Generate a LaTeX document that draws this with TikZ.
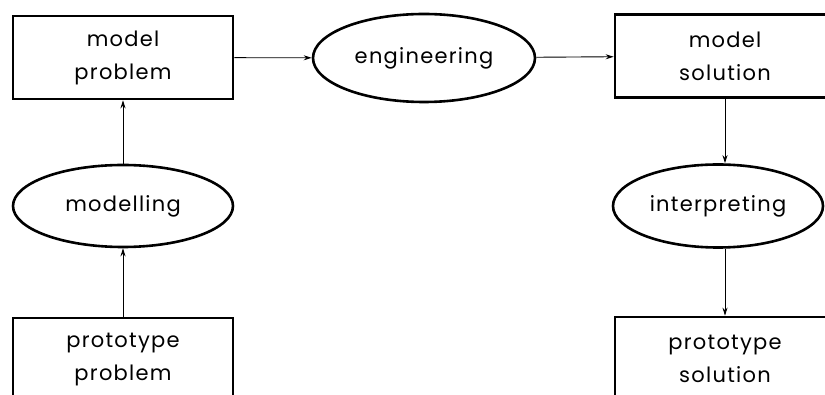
\documentclass[tikz,border=0pt]{standalone}
\usepackage{fontspec}
\setmainfont{Poppins}[LetterSpace=6]
\usetikzlibrary{shapes.geometric,arrows.meta}

\tikzset{
  stagebox/.style={draw,line width=2.6pt,rectangle,minimum width=220pt,minimum height=83pt,align=center,inner sep=0pt},
  actoval/.style={draw,line width=2.6pt,ellipse,inner sep=0pt,align=center},
  link/.style={line width=0.9pt,-{Stealth[length=8pt,width=5pt]}}
}

\begin{document}
\begin{tikzpicture}[x=1pt,y=-1pt,font=\fontsize{21}{33}\selectfont]
            % page frame, the boxes run off the right and lower edges
            \useasboundingbox (0,0) rectangle (825,395);
            \clip (0,0) rectangle (825,395);

            % the four states (model / prototype, problem / solution)
            \node[stagebox] (mprob) at (123,57.5) {model\\problem}; % top left
            \node[stagebox] (msol) at (725,56) {model\\solution}; % top right
            \node[stagebox] (pprob) at (123,359.5) {prototype\\problem}; % bottom left
            \node[stagebox] (psol) at (725,358.5) {prototype\\solution}; % bottom right

            % the three activities between them
            \node[actoval,minimum width=222pt,minimum height=88pt] (eng) at (424,58) {engineering};
            \node[actoval,minimum width=220pt,minimum height=82pt] (mdl) at (123,206) {modelling};
            \node[actoval,minimum width=210pt,minimum height=83pt] (interp) at (718,206) {interpreting};

            % connect them, left column up, across the top, right column down
            \draw[link] (pprob) -- (mdl);
            \draw[link] (mdl) -- (mprob);
            \draw[link] (mprob) -- (eng);
            \draw[link] (eng) -- (msol);
            \draw[link] (msol.south) -- (msol.south |- interp.north);
            \draw[link] (msol.south |- interp.south) -- (psol.north);
        \end{tikzpicture}
\end{document}
